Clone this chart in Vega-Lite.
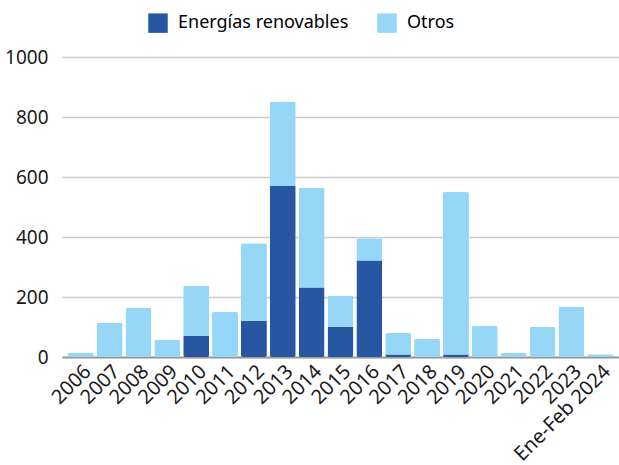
{
  "$schema": "https://vega.github.io/schema/vega-lite/v6.json",
  "width": 619,
  "height": 465,
  "autosize": {"type": "fit", "contains": "padding"},
  "padding": {"left": 4, "right": 0, "top": 48, "bottom": 0},
  "config": {
    "font": "Noto Sans",
    "view": {"stroke": null},
    "axis": {"labelFont": "Noto Sans", "labelFontSize": 19, "labelColor": "#1a1a1a"}
  },
  "data": {
    "values": [
      {"year": "2006", "tipo": "Otros", "valor": 15},
      {"year": "2007", "tipo": "Otros", "valor": 114},
      {"year": "2008", "tipo": "Otros", "valor": 164},
      {"year": "2009", "tipo": "Otros", "valor": 57},
      {"year": "2010", "tipo": "Energías renovables", "valor": 70},
      {"year": "2010", "tipo": "Otros", "valor": 168},
      {"year": "2011", "tipo": "Otros", "valor": 150},
      {"year": "2012", "tipo": "Energías renovables", "valor": 121},
      {"year": "2012", "tipo": "Otros", "valor": 258},
      {"year": "2013", "tipo": "Energías renovables", "valor": 570},
      {"year": "2013", "tipo": "Otros", "valor": 282},
      {"year": "2014", "tipo": "Energías renovables", "valor": 232},
      {"year": "2014", "tipo": "Otros", "valor": 332},
      {"year": "2015", "tipo": "Energías renovables", "valor": 101},
      {"year": "2015", "tipo": "Otros", "valor": 104},
      {"year": "2016", "tipo": "Energías renovables", "valor": 322},
      {"year": "2016", "tipo": "Otros", "valor": 74},
      {"year": "2017", "tipo": "Energías renovables", "valor": 8},
      {"year": "2017", "tipo": "Otros", "valor": 72},
      {"year": "2018", "tipo": "Otros", "valor": 60},
      {"year": "2019", "tipo": "Energías renovables", "valor": 8},
      {"year": "2019", "tipo": "Otros", "valor": 542},
      {"year": "2020", "tipo": "Otros", "valor": 104},
      {"year": "2021", "tipo": "Otros", "valor": 13},
      {"year": "2022", "tipo": "Otros", "valor": 100},
      {"year": "2023", "tipo": "Otros", "valor": 168},
      {"year": "Ene-Feb 2024", "tipo": "Otros", "valor": 9}
    ]
  },
  "mark": {"type": "bar", "cornerRadius": 2},
  "encoding": {
    "x": {
      "field": "year", "type": "nominal", "title": null,
      "scale": {"paddingInner": 0.1, "paddingOuter": 0.2},
      "axis": {"labelAngle": -45, "labelFontSize": 20, "ticks": false, "domainColor": "#999999", "domainWidth": 2, "labelPadding": 4}
    },
    "y": {
      "field": "valor", "type": "quantitative", "aggregate": "sum", "title": null,
      "scale": {"domain": [0, 1000]},
      "axis": {"values": [0, 200, 400, 600, 800, 1000], "format": "d", "domain": false, "ticks": false, "labelPadding": 14, "gridColor": "#cccccc", "gridWidth": 1.5}
    },
    "color": {
      "field": "tipo", "type": "nominal",
      "scale": {"domain": ["Energías renovables", "Otros"], "range": ["#2757A3", "#96D7F7"]},
      "legend": {"title": null, "orient": "none", "legendX": 86, "legendY": -44, "direction": "horizontal", "symbolType": "square", "symbolSize": 380, "symbolStrokeWidth": 0, "labelFontSize": 18, "labelFont": "Noto Sans", "labelLimit": 400, "columnPadding": 28, "labelOffset": 10}
    },
    "order": {"field": "tipo", "sort": "ascending"}
  }
}
